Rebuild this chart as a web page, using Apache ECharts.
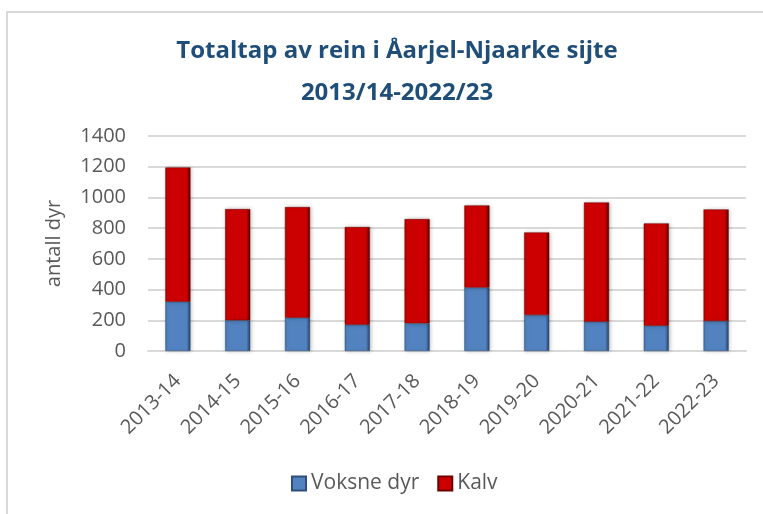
<!DOCTYPE html>
<html>
<head>
<meta charset="utf-8">
<script src="https://cdn.jsdelivr.net/npm/echarts@6/dist/echarts.min.js"></script>
<style>
  html, body { margin: 0; padding: 0; background: #fff; overflow: hidden; }
  #wrap { position: relative; width: 763px; height: 514px; }
  #frame { position: absolute; left: 6px; top: 11px; width: 800px; height: 560px; border: 2px solid #d9d9d9; }
  #main { position: absolute; left: 0; top: 0; width: 763px; height: 514px; }
</style>
</head>
<body>
<div id="wrap">
  <div id="frame"></div>
  <div id="main"></div>
</div>
<script>
// data
var seasons = ['2013-14', '2014-15', '2015-16', '2016-17', '2017-18', '2018-19', '2019-20', '2020-21', '2021-22', '2022-23'];
var voksne = [321, 200, 217, 171, 180, 413, 234, 191, 165, 195];
var kalv = [874, 724, 720, 636, 679, 535, 538, 776, 666, 727];
var yTicks = [0, 200, 400, 600, 800, 1000, 1200, 1400];

(function () {
  var myChart = echarts.init(document.getElementById('main'));
  var font = 'Open Sans';
  var grey = '#595959';

  function bevel(edge, main, dark) {
    return new echarts.graphic.LinearGradient(0, 0, 1, 0, [
      { offset: 0, color: edge },
      { offset: 0.1, color: main },
      { offset: 0.85, color: main },
      { offset: 1, color: dark }
    ]);
  }

  var option = {
    animation: false,
    title: {
      text: 'Totaltap av rein i Åarjel-Njaarke sijte\n2013/14-2022/23',
      left: 392,
      top: 25,
      textAlign: 'center',
      textStyle: {
        fontFamily: font,
        fontSize: 24,
        fontWeight: 'bold',
        color: '#1f4e79',
        lineHeight: 42
      }
    },
    legend: {
      bottom: 15,
      left: 286,
      icon: 'rect',
      itemWidth: 14,
      itemHeight: 14,
      itemGap: 18,
      textStyle: { fontFamily: font, fontSize: 21, color: grey },
      data: ['Voksne dyr', 'Kalv']
    },
    grid: {
      left: 148,
      right: 17,
      top: 136,
      bottom: 163
    },
    xAxis: {
      type: 'category',
      data: seasons,
      axisTick: { show: false },
      axisLine: { lineStyle: { color: '#d9d9d9', width: 2 } },
      axisLabel: {
        interval: 0,
        rotate: 45,
        margin: 27,
        fontFamily: font,
        fontSize: 20,
        color: grey
      }
    },
    yAxis: {
      type: 'value',
      min: 0,
      max: yTicks[yTicks.length - 1],
      interval: yTicks[1] - yTicks[0],
      name: 'antall dyr',
      nameLocation: 'middle',
      nameGap: 84,
      nameTextStyle: { fontFamily: font, fontSize: 20, color: grey },
      axisLine: { show: false },
      axisTick: { show: false },
      axisLabel: {
        margin: 22,
        fontFamily: font,
        fontSize: 20,
        color: grey,
        formatter: function (v) { return String(v); }
      },
      splitLine: { lineStyle: { color: '#d9d9d9', width: 2 } }
    },
    series: [
      {
        name: 'Voksne dyr',
        type: 'bar',
        stack: 'tap',
        barWidth: '42%',
        data: voksne,
        itemStyle: {
          color: bevel('#4472a8', '#5283c0', '#243f62'),
          borderColor: '#2f4f78',
          borderWidth: 0.5,
          shadowColor: 'rgba(0,0,0,0.25)',
          shadowBlur: 4,
          shadowOffsetX: 1
        }
      },
      {
        name: 'Kalv',
        type: 'bar',
        stack: 'tap',
        data: kalv,
        itemStyle: {
          color: bevel('#b00000', '#cc0000', '#500000'),
          borderColor: '#6e0000',
          borderWidth: 0.5,
          shadowColor: 'rgba(0,0,0,0.25)',
          shadowBlur: 4,
          shadowOffsetX: 1
        }
      }
    ]
  };
  myChart.setOption(option);
  window.addEventListener('resize', function () {
    myChart.resize();
  });
})();
</script>
</body>
</html>
